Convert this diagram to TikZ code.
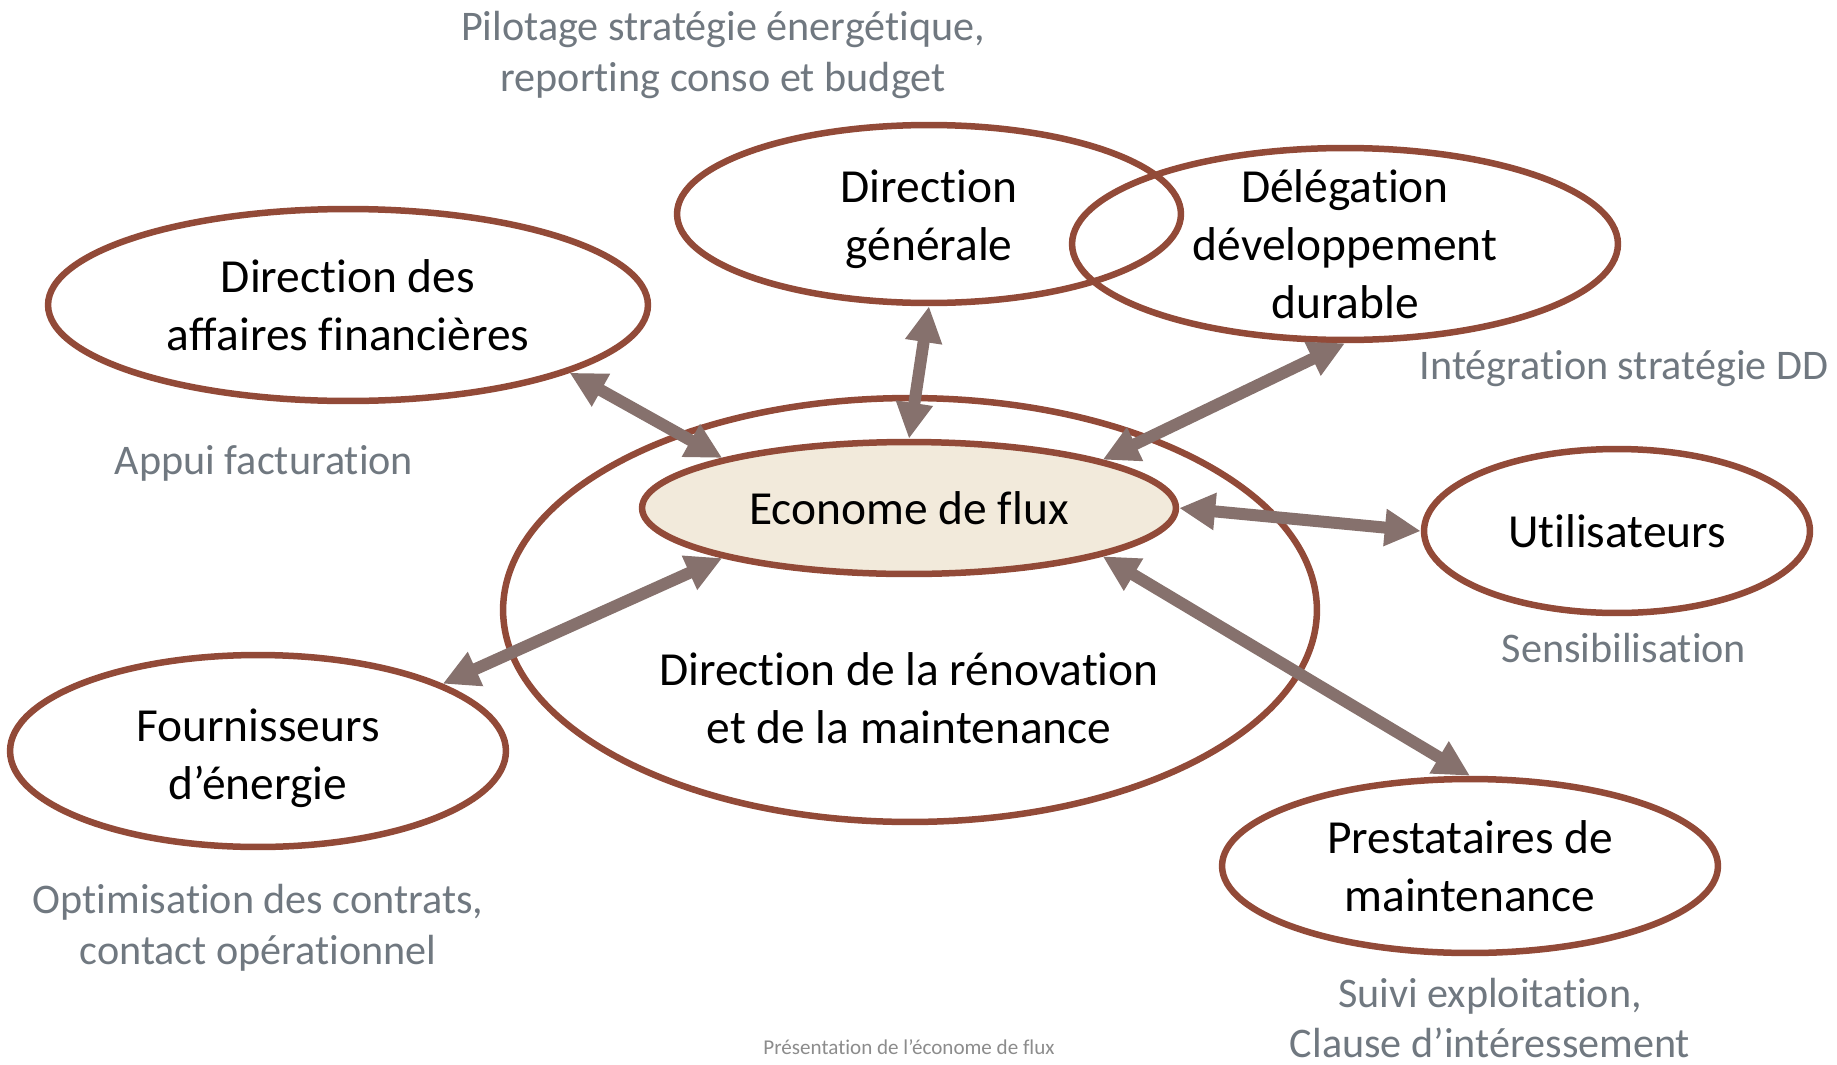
\documentclass[tikz,border=0pt]{standalone}
\usepackage{fontspec}
\setmainfont{Carlito}[Ligatures=NoCommon]
\usetikzlibrary{shapes.geometric,arrows.meta}
\definecolor{ringbrown}{RGB}{146,74,56}
\definecolor{linkgray}{RGB}{134,113,109}
\definecolor{ecofill}{RGB}{242,234,219}
\definecolor{notegray}{RGB}{112,120,128}
\definecolor{capgray}{RGB}{140,140,140}
\tikzset{
	actor/.style={ellipse, draw=ringbrown, line width=0.13cm, inner sep=0pt},
	actortext/.style={align=center, font=\fontsize{27}{33}\selectfont},
	note/.style={align=center, text=notegray, font=\fontsize{24}{29}\selectfont},
	biarrow/.style={line width=0.24cm, color=linkgray,
		{Triangle[length=0.72cm,width=0.7cm]}-{Triangle[length=0.72cm,width=0.7cm]}}
}

\begin{document}
\begin{tikzpicture}[x=0.02cm, y=-0.02cm]
		%%%%% START %%%%%
		\useasboundingbox (0, 0) rectangle (1837, 1065);
		
		\node[actor, minimum width=16.28cm, minimum height=8.48cm] (ren) at (910, 610) {};
		\node[actortext] (rentxt) at (909, 698) {Direction de la rénovation\\et de la maintenance};
		\node[actor, fill=ecofill, minimum width=10.68cm, minimum height=2.64cm,
			label={[actortext]center:Econome de flux}] (eco) at (909, 508) {};
		
		\node[actor, minimum width=12cm, minimum height=3.84cm,
			label={[actortext]center:Direction des\\affaires financières}] (fin) at (348, 305) {};
		\node[actor, minimum width=10.08cm, minimum height=3.56cm,
			label={[actortext, yshift=-0.1cm]center:Direction\\générale}] (gen) at (929, 214) {};
		\node[actor, minimum width=10.92cm, minimum height=3.84cm,
			label={[actortext]center:Délégation\\développement\\durable}] (dd) at (1345, 244) {};
		\node[actor, minimum width=7.72cm, minimum height=3.28cm,
			label={[actortext]center:Utilisateurs}] (uti) at (1617, 531) {};
		\node[actor, minimum width=9.92cm, minimum height=3.84cm,
			label={[actortext, yshift=-0.14cm]center:Fournisseurs\\d’énergie}] (fou) at (258, 751) {};
		\node[actor, minimum width=9.92cm, minimum height=3.48cm,
			label={[actortext]center:Prestataires de\\maintenance}] (pre) at (1470, 866) {};
		
		% roles
		\node[note] (pilot) at (723, 55) {Pilotage stratégie énergétique,\\reporting conso et budget};
		\node[note] (integ) at (1624, 369) {Intégration stratégie DD};
		\node[note] (appui) at (264, 463) {Appui facturation};
		\node[note] (sensi) at (1624, 648) {Sensibilisation};
		\node[note] (optim) at (258, 928) {Optimisation des contrats,\\contact opérationnel};
		\node[note] (suivi) at (1490, 1018) {Suivi exploitation,\\Clause d’intéressement};
		
		\node[text=capgray, font=\fontsize{12}{14}\selectfont] (caption) at (909, 1047) {Présentation de l’économe de flux};
		
		% links
		\draw[biarrow] (fin.-17.8) -- (eco.165.6);
		\draw[biarrow] (gen.south) -- (eco.north);
		\draw[biarrow] (dd.south) -- (eco.14.3);
		\draw[biarrow] (eco.east) -- (uti.west);
		\draw[biarrow] (eco.-165.7) -- (fou.20.9);
		\draw[biarrow] (eco.-14.6) -- (pre.north);
		
		%%%%% END %%%%%
	\end{tikzpicture}
\end{document}
